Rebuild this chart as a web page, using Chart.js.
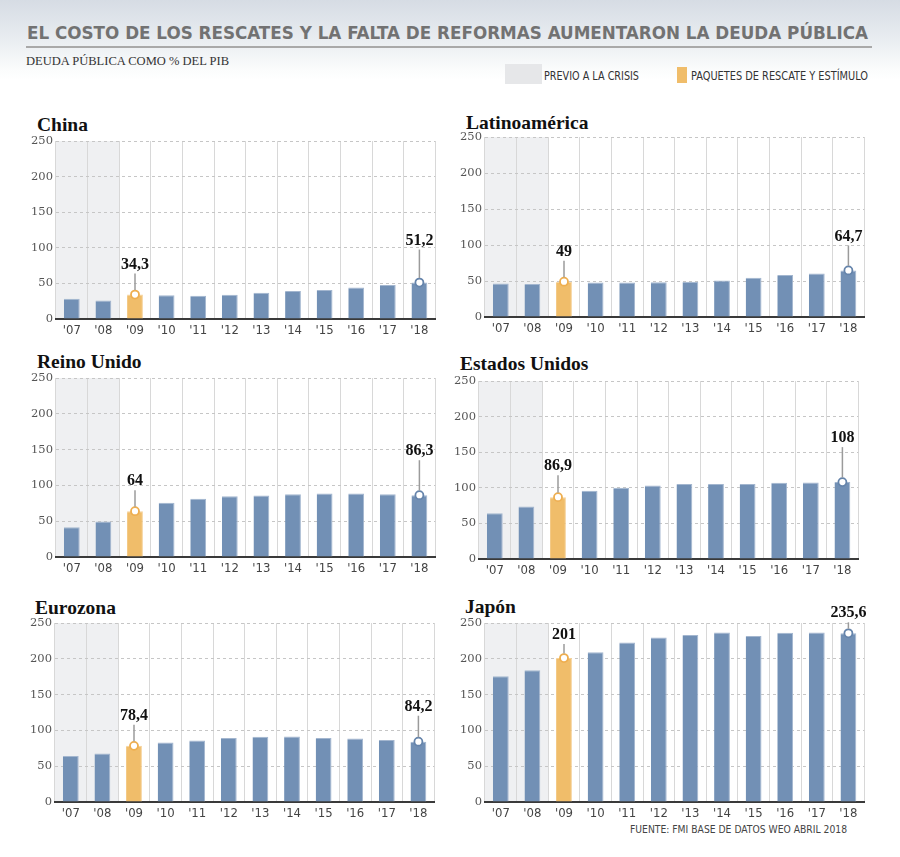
<!DOCTYPE html>
<html lang="es">
<head>
<meta charset="utf-8">
<title>Deuda pública como % del PIB</title>
<script src="https://cdn.jsdelivr.net/npm/chart.js@4.4.1/dist/chart.umd.min.js"></script>
<style>
  html, body { margin:0; padding:0; }
  body {
    width:900px; height:857px; position:relative; overflow:hidden;
    background: linear-gradient(to bottom, #d6dce4 0px, #e9edf1 40px, #fbfcfc 70px, #ffffff 80px, #ffffff 100%);
    font-family: "Liberation Sans Narrow", "DejaVu Sans Condensed", "Roboto", sans-serif;
  }
  .abs { position:absolute; white-space:nowrap; }
  .fit { display:inline-block; transform-origin: 0 50%; }
  #title { left:27px; top:24px; font-size:18px; line-height:18px; font-weight:bold; color:#727272; }
  #rule { left:26px; top:45.5px; width:846px; height:2px; background:#a9a9a9; }
  #subtitle { left:26px; top:54.5px; font-family:"Liberation Serif", serif; font-size:12.5px; line-height:12px; color:#333; }
  .legbox { position:absolute; }
  .legtxt { font-size:12.5px; line-height:12px; color:#333; }
  .ptitle { font-family:"Liberation Serif", "DejaVu Serif", serif; font-weight:bold; font-size:19.5px; line-height:19.5px; color:#111; }
  #source { left:630px; top:824px; font-size:11px; line-height:11px; color:#444; }
  .panel { position:absolute; }
</style>
</head>
<body>
<div id="title" class="abs fit">EL COSTO DE LOS RESCATES Y LA FALTA DE REFORMAS AUMENTARON LA DEUDA PÚBLICA</div>
<div id="rule" class="abs"></div>
<div id="subtitle" class="abs fit">DEUDA PÚBLICA COMO % DEL PIB</div>
<div class="legbox" style="left:505px;top:64px;width:37px;height:20px;background:#e6e7e9;"></div>
<div id="leg1" class="abs fit legtxt" style="left:544px;top:69.5px;">PREVIO A LA CRISIS</div>
<div class="legbox" style="left:677px;top:67px;width:10px;height:16px;background:#f0bd6a;"></div>
<div id="leg2" class="abs fit legtxt" style="left:691px;top:69.5px;">PAQUETES DE RESCATE Y ESTÍMULO</div>
<div id="source" class="abs fit">FUENTE: FMI BASE DE DATOS WEO ABRIL 2018</div>
<div id="panels"></div>

<script>
// ---------- DATA ----------
const years = ["'07","'08","'09","'10","'11","'12","'13","'14","'15","'16","'17","'18"];
const yTicks = [0, 50, 100, 150, 200, 250];
const chinaDebt  = [28.4, 26.1, 34.3, 33.2, 32.6, 34.1, 37.0, 39.3, 40.7, 44.1, 47.8, 51.2];
const latamDebt  = [46.5, 46.0, 49.0, 48.0, 48.0, 48.4, 48.8, 50.7, 54.5, 58.2, 60.5, 64.7];
const ukDebt     = [41.6, 49.6, 64.0, 75.9, 81.5, 84.8, 85.8, 87.6, 88.6, 88.6, 87.6, 86.3];
const usDebt     = [64.2, 73.6, 86.9, 95.8, 100.0, 103.3, 105.2, 105.2, 105.2, 107.0, 107.6, 108.0];
const euroDebt   = [64.4, 67.7, 78.4, 83.2, 86.0, 89.3, 91.2, 91.6, 89.3, 88.8, 86.5, 84.2];
const japanDebt  = [175.6, 184.0, 201.0, 209.3, 222.8, 229.9, 233.1, 236.9, 231.7, 236.4, 236.9, 235.6];
const preCrisis = ["'07", "'08"];     // shaded categories
const stimulusYear = "'09";           // orange bar
const calloutYears = ["'09", "'18"];  // labelled points

// ---------- LAYOUT / STYLE ----------
const BLUE = '#7290b5', ORANGE = '#f0bd6a';
const panels = [
  { title:'China',          values:chinaDebt, L:56,  T:141, R:436, B:319, tx:37,  tb:131, offsets:[30,42] },
  { title:'Latinoamérica',  values:latamDebt, L:485, T:137, R:865, B:317, tx:466, tb:129, offsets:[30,34] },
  { title:'Reino Unido',    values:ukDebt,    L:56,  T:378, R:436, B:557, tx:37,  tb:368, offsets:[30,44] },
  { title:'Estados Unidos', values:usDebt,    L:479, T:381, R:859, B:559, tx:460, tb:370, offsets:[31,44] },
  { title:'Eurozona',       values:euroDebt,  L:55,  T:623, R:435, B:802, tx:35,  tb:614, offsets:[30,35] },
  { title:'Japón',          values:japanDebt, L:485, T:623, R:865, B:802, tx:465, tb:613, offsets:[23,20] }
];

function fitWidth(id, w) {
  const el = document.getElementById(id);
  el.style.transform = 'none';
  const cur = el.getBoundingClientRect().width;
  if (cur > 0) el.style.transform = 'scaleX(' + (w / cur) + ')';
}
function fitAll() {
  fitWidth('title', 841);
  fitWidth('subtitle', 203);
  fitWidth('leg1', 95);
  fitWidth('leg2', 177);
  fitWidth('source', 217);
}
fitAll();
if (document.fonts && document.fonts.ready) document.fonts.ready.then(fitAll);

const shadePlugin = {
  id: 'shade',
  beforeDraw(chart, args, opts) {
    const { ctx, chartArea, scales } = chart;
    const x = scales.x;
    const half = (x.getPixelForValue(1) - x.getPixelForValue(0)) / 2;
    const i0 = years.indexOf(opts.from), i1 = years.indexOf(opts.to);
    const x0 = x.getPixelForValue(i0) - half;
    const x1 = x.getPixelForValue(i1) + half;
    ctx.save();
    ctx.fillStyle = opts.color;
    ctx.fillRect(x0, chartArea.top, x1 - x0, chartArea.bottom - chartArea.top);
    ctx.restore();
  }
};

const calloutPlugin = {
  id: 'callout',
  afterDatasetsDraw(chart, args, opts) {
    const { ctx } = chart;
    const meta = chart.getDatasetMeta(1);
    const data = chart.data.datasets[1].data;
    let k = 0;
    ctx.save();
    data.forEach((v, i) => {
      if (v === null || v === undefined) return;
      const pt = meta.data[i];
      const off = opts.offsets[k++];
      const ly = pt.y - off;
      ctx.strokeStyle = '#9b9b9b';
      ctx.lineWidth = 1.5;
      ctx.beginPath();
      ctx.moveTo(pt.x, pt.y - 4.5);
      ctx.lineTo(pt.x, ly + 9);
      ctx.stroke();
      ctx.fillStyle = '#111';
      ctx.font = 'bold 16px "Liberation Serif", "DejaVu Serif", serif';
      ctx.textAlign = 'center';
      ctx.textBaseline = 'middle';
      ctx.fillText(String(v).replace('.', ','), pt.x, ly);
    });
    ctx.restore();
  }
};

const host = document.getElementById('panels');
const PAD_T = 35, PAD_R = 5, YW = 45, XH = 25;

panels.forEach((p, idx) => {
  const t = document.createElement('div');
  t.className = 'abs ptitle';
  t.style.left = p.tx + 'px';
  t.style.top = (p.tb - 16.3) + 'px';
  t.textContent = p.title;
  host.appendChild(t);

  const box = document.createElement('div');
  box.className = 'panel';
  const W = (p.R - p.L) + YW + PAD_R;
  const H = (p.B - p.T) + PAD_T + XH;
  box.style.left = (p.L - YW) + 'px';
  box.style.top = (p.T - PAD_T) + 'px';
  box.style.width = W + 'px';
  box.style.height = H + 'px';
  const cv = document.createElement('canvas');
  box.appendChild(cv);
  host.appendChild(box);

  const barColors = years.map(y => y === stimulusYear ? ORANGE : BLUE);
  const barBorders = years.map(y => y === stimulusYear ? '#f5d29a' : '#a3b6cf');
  const markerData = years.map((y, i) => calloutYears.includes(y) ? p.values[i] : null);
  const markerBorders = years.map(y => y === stimulusYear ? '#eeae4f' : '#6584ab');

  new Chart(cv, {
    type: 'bar',
    data: {
      labels: years,
      datasets: [
        {
          type: 'bar',
          data: p.values,
          backgroundColor: barColors,
          borderColor: barBorders,
          borderWidth: { top: 1, right: 1, left: 0, bottom: 0 },
          barPercentage: 0.5,
          categoryPercentage: 1.0,
          order: 1
        },
        {
          type: 'line',
          data: markerData,
          showLine: false,
          pointRadius: 4,
          pointBorderWidth: 1.8,
          pointBackgroundColor: '#ffffff',
          pointBorderColor: markerBorders,
          clip: false,
          order: 0
        }
      ]
    },
    options: {
      responsive: true,
      maintainAspectRatio: false,
      animation: false,
      events: [],
      layout: { padding: { top: PAD_T, right: PAD_R, left: 0, bottom: 0 } },
      plugins: {
        legend: { display: false },
        tooltip: { enabled: false },
        shade: { from: preCrisis[0], to: preCrisis[preCrisis.length - 1], color: '#eff0f2' },
        callout: { offsets: p.offsets }
      },
      scales: {
        x: {
          offset: true,
          grid: { display: true, offset: true, color: '#d8d8d8', lineWidth: 1, drawTicks: false },
          border: { display: true, color: '#3a3a3a', width: 2 },
          ticks: {
            padding: 4,
            color: '#444',
            font: { family: '"Liberation Sans Narrow", "DejaVu Sans Condensed", sans-serif', size: 13 }
          },
          afterFit(scale) { scale.height = XH; }
        },
        y: {
          min: yTicks[0],
          max: yTicks[yTicks.length - 1],
          afterBuildTicks(scale) { scale.ticks = yTicks.map(v => ({ value: v })); },
          grid: { color: '#c6c6c6', lineWidth: 1, drawTicks: false },
          border: { display: false, dash: [3, 3] },
          ticks: {
            padding: 3,
            color: '#555',
            font: { family: '"DejaVu Serif", "Liberation Serif", serif', size: 11.5 }
          },
          afterFit(scale) { scale.width = YW; }
        }
      }
    },
    plugins: [shadePlugin, calloutPlugin]
  });
});
</script>
</body>
</html>
